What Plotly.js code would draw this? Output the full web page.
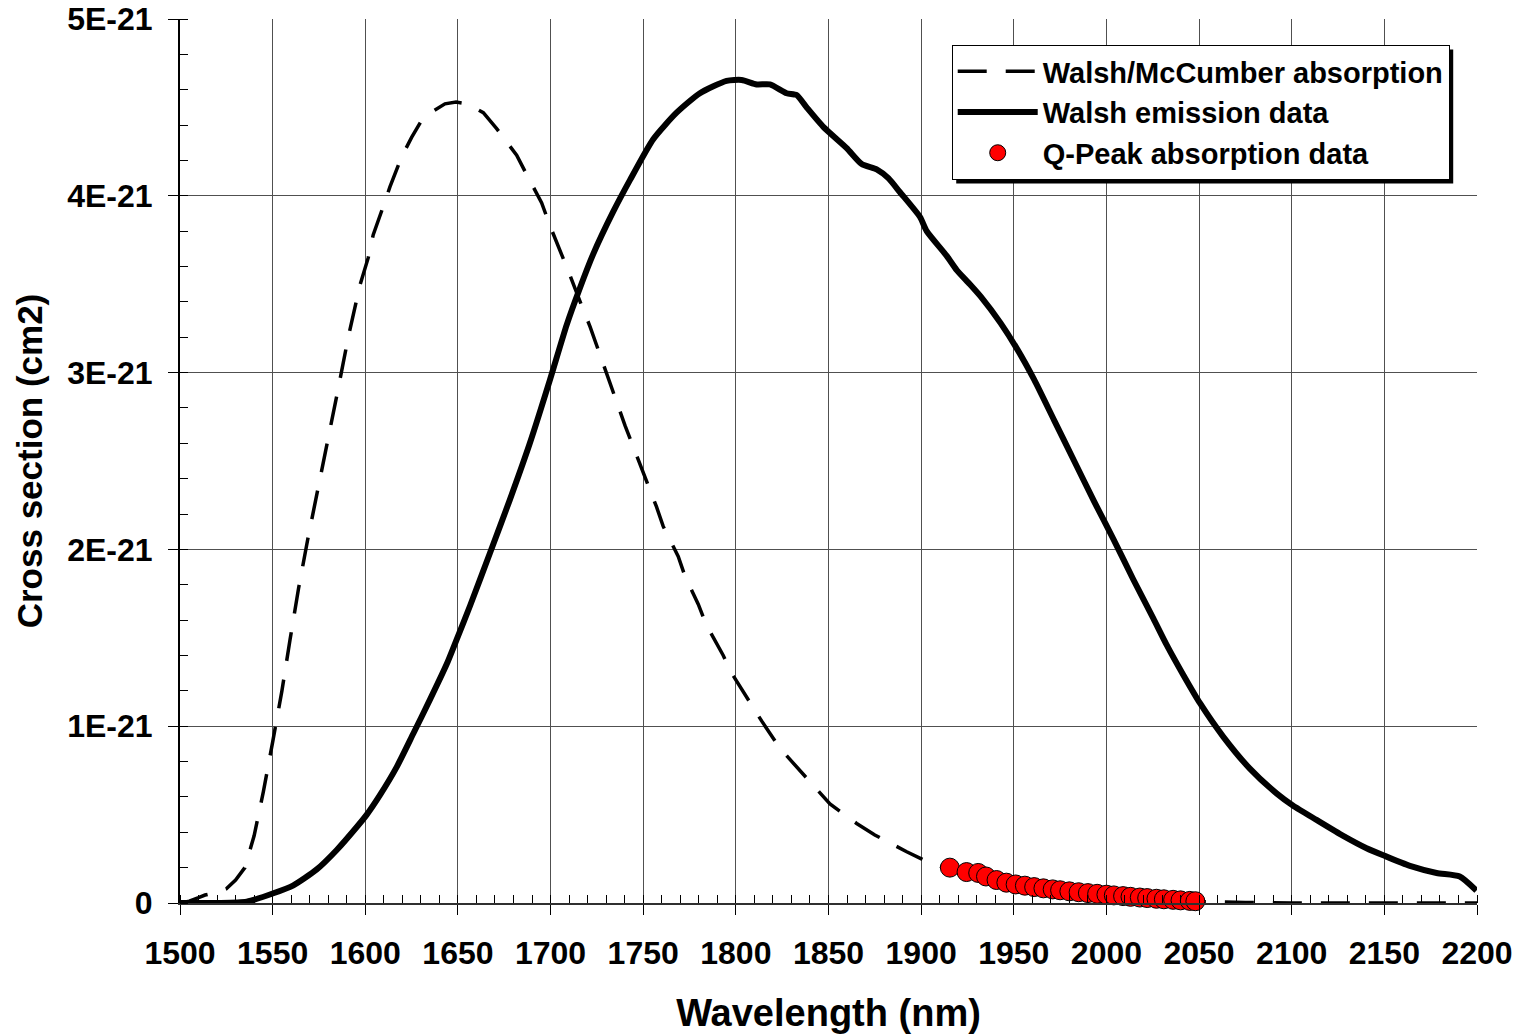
<!DOCTYPE html>
<html>
<head>
<meta charset="utf-8">
<script src="https://cdn.plot.ly/plotly-3.0.1.min.js"></script>
<style>html,body{margin:0;padding:0;background:#fff;}#chart{width:1531px;height:1034px;}</style>
</head>
<body>
<div id="chart"></div>
<script>
// Values in units of 1E-21 cm2
const absWavelength = [1500,1505,1510,1513.5,1520,1525,1530,1535,1540,1545,1550,1555,1559.4,1564,1569,1574.6,1580,1585.4,1590.8,1597,1601.6,1604.3,1609.7,1613.3,1619.6,1625,1630,1636.7,1643,1649,1655,1663.7,1670.9,1681.7,1687.1,1695.2,1699.7,1706,1710.5,1716,1721.3,1726.7,1730.3,1736.6,1740.2,1746.5,1751,1757.2,1760.8,1768.9,1772.5,1779.7,1784.2,1793.2,1797.7,1807.6,1813.9,1823.8,1831.9,1843.6,1850.8,1865.2,1875,1892.2,1902,1915,1930,1945,1960,1980,2000,2020,2040,2050,2075,2100,2150,2200];
const absValues = [0.0,0.01,0.03,0.045,0.06,0.08,0.13,0.2,0.38,0.63,0.91,1.2,1.49,1.78,2.06,2.345,2.63,2.91,3.2,3.49,3.65,3.78,3.94,4.05,4.22,4.33,4.42,4.48,4.52,4.53,4.52,4.47,4.38,4.23,4.12,3.96,3.83,3.67,3.55,3.4,3.26,3.1,2.99,2.81,2.7,2.53,2.41,2.24,2.13,1.96,1.85,1.69,1.57,1.4,1.3,1.13,1.03,0.875,0.78,0.65,0.56,0.45,0.385,0.29,0.24,0.19,0.15,0.11,0.085,0.06,0.04,0.025,0.012,0.008,0.003,0.0,0.0,0.0];

const emWavelength = [1500,1520,1536,1550.4,1561.2,1573.8,1584.6,1595.4,1600.8,1607.9,1617,1626,1634.9,1643.9,1649.3,1656.5,1667.3,1678,1688.8,1699.7,1708.7,1715.9,1723,1733.8,1742.9,1755.4,1768,1780.6,1795,1803.1,1811.2,1818.4,1827.4,1832.8,1838.2,1847.2,1859.8,1867.9,1876,1882.3,1888.6,1899.4,1903,1913.8,1919.2,1926.3,1932.2,1942.9,1952,1961,1971.8,1982.6,1993.4,2003.7,2014.5,2025.3,2032.5,2041.5,2050.5,2063.1,2077.4,2091.8,2100.8,2113.4,2127.8,2140.4,2149.4,2163.8,2178.2,2190.7,2199.7];
const emValues = [0.0,0.0,0.007,0.055,0.1,0.19,0.3,0.43,0.5,0.61,0.77,0.96,1.15,1.35,1.49,1.68,1.98,2.28,2.6,2.96,3.27,3.48,3.67,3.91,4.09,4.32,4.47,4.58,4.65,4.655,4.63,4.63,4.58,4.57,4.5,4.39,4.27,4.18,4.15,4.1,4.02,3.88,3.8,3.66,3.58,3.5,3.43,3.28,3.13,2.96,2.73,2.5,2.27,2.06,1.83,1.61,1.46,1.29,1.13,0.94,0.76,0.62,0.55,0.47,0.38,0.31,0.27,0.21,0.17,0.15,0.07];

const qpWavelength = [1915.5,1924.5,1930.8,1935,1940.7,1946,1951,1956,1961,1966,1971,1975,1980,1985,1990,1995,2000,2004,2009,2013,2018,2022,2027,2031,2036,2040,2045,2048];
const qpValues = [0.2,0.175,0.17,0.15,0.13,0.115,0.105,0.098,0.09,0.083,0.077,0.072,0.066,0.061,0.056,0.052,0.047,0.043,0.039,0.035,0.031,0.028,0.024,0.021,0.018,0.015,0.012,0.01];

const xTickVals = [1500,1550,1600,1650,1700,1750,1800,1850,1900,1950,2000,2050,2100,2150,2200];
const yTickVals = [0,1,2,3,4,5];
const yTickText = ['0','1E-21','2E-21','3E-21','4E-21','5E-21'];

const SCALE = 1e-21;
const sc = a => a.map(v => v * SCALE);

const FONT = 'Liberation Sans, Arial, sans-serif';

const traces = [
  {x: absWavelength, y: sc(absValues), type: 'scatter', mode: 'lines', name: 'Walsh/McCumber absorption',
   line: {color: '#000', width: 3.5, dash: '29px,19px'}},
  {x: emWavelength, y: sc(emValues), type: 'scatter', mode: 'lines', name: 'Walsh emission data',
   line: {color: '#000', width: 6, shape: 'spline', smoothing: 0.6}},
  {x: qpWavelength, y: sc(qpValues), type: 'scatter', mode: 'markers', name: 'Q-Peak absorption data',
   marker: {color: '#ff0000', size: 19, line: {color: '#000', width: 1}}, cliponaxis: false}
];

const layout = {
  width: 1531, height: 1034,
  margin: {l: 180, r: 54, t: 19, b: 131},
  paper_bgcolor: '#fff', plot_bgcolor: '#fff',
  showlegend: true,
  font: {family: FONT, color: '#000', weight: 'bold'},
  xaxis: {
    range: [1500, 2200], tickvals: xTickVals, ticks: 'outside', ticklen: 10, tickwidth: 1, tickcolor: '#000',
    showgrid: true, gridcolor: '#505050', gridwidth: 1, zeroline: false,
    showline: true, linecolor: '#303030', linewidth: 2,
    tickfont: {family: FONT, size: 32, weight: 'bold', color: '#000'},
    ticklabelstandoff: 11,
    minor: {dtick: 10, tick0: 1500, ticks: 'inside', ticklen: 8, tickwidth: 1, tickcolor: '#000', showgrid: false},
    title: {text: 'Wavelength (nm)', font: {family: FONT, size: 38, weight: 'bold', color: '#000'}, standoff: 30}
  },
  yaxis: {
    range: [0, 5 * SCALE], tickvals: sc(yTickVals), ticktext: yTickText, ticks: 'outside', ticklen: 10, tickwidth: 1, tickcolor: '#000',
    showgrid: true, gridcolor: '#505050', gridwidth: 1, zeroline: false,
    showline: true, linecolor: '#000', linewidth: 2,
    tickfont: {family: FONT, size: 32, weight: 'bold', color: '#000'},
    ticklabelstandoff: 9,
    minor: {dtick: 0.2 * SCALE, tick0: 0, ticks: 'inside', ticklen: 8, tickwidth: 1, tickcolor: '#000', showgrid: false},
    title: {text: 'Cross section (cm2)', font: {family: FONT, size: 35, weight: 'bold', color: '#000'}, standoff: 14}
  },
  legend: {
    x: 0.595, y: 0.9706, xanchor: 'left', yanchor: 'top',
    bgcolor: '#fff', bordercolor: '#000', borderwidth: 1,
    font: {family: FONT, size: 29, weight: 'bold', color: '#000'},
    itemwidth: 80, tracegroupgap: 0
  }
};

Plotly.newPlot('chart', traces, layout, {displayModeBar: false, staticPlot: true}).then(gd => {
  // drop shadow behind legend box (offset right/down)
  const bg = gd.querySelector('.legend .bg');
  const root = gd.getBoundingClientRect();
  if (!bg) return;
  const r = bg.getBoundingClientRect();
  const fs = gd._fullLayout._size;
  const off = 4;
  const toPx = px => (px - root.left - fs.l) / fs.w;
  const toPy = py => 1 - (py - root.top - fs.t) / fs.h;
  return Plotly.relayout(gd, {shapes: [{
    type: 'rect', xref: 'paper', yref: 'paper', layer: 'above',
    x0: toPx(r.left + off), x1: toPx(r.right + off),
    y0: toPy(r.bottom + off), y1: toPy(r.top + off),
    fillcolor: '#000', line: {width: 0}
  }]}).then(() => {
    // keep legend above the shadow
    const leg = gd.querySelector('.legend');
    const sh = gd.querySelector('.layer-above .shapelayer');
    if (leg && sh && leg.parentNode) leg.parentNode.appendChild(leg);
  });
});
</script>
</body>
</html>
